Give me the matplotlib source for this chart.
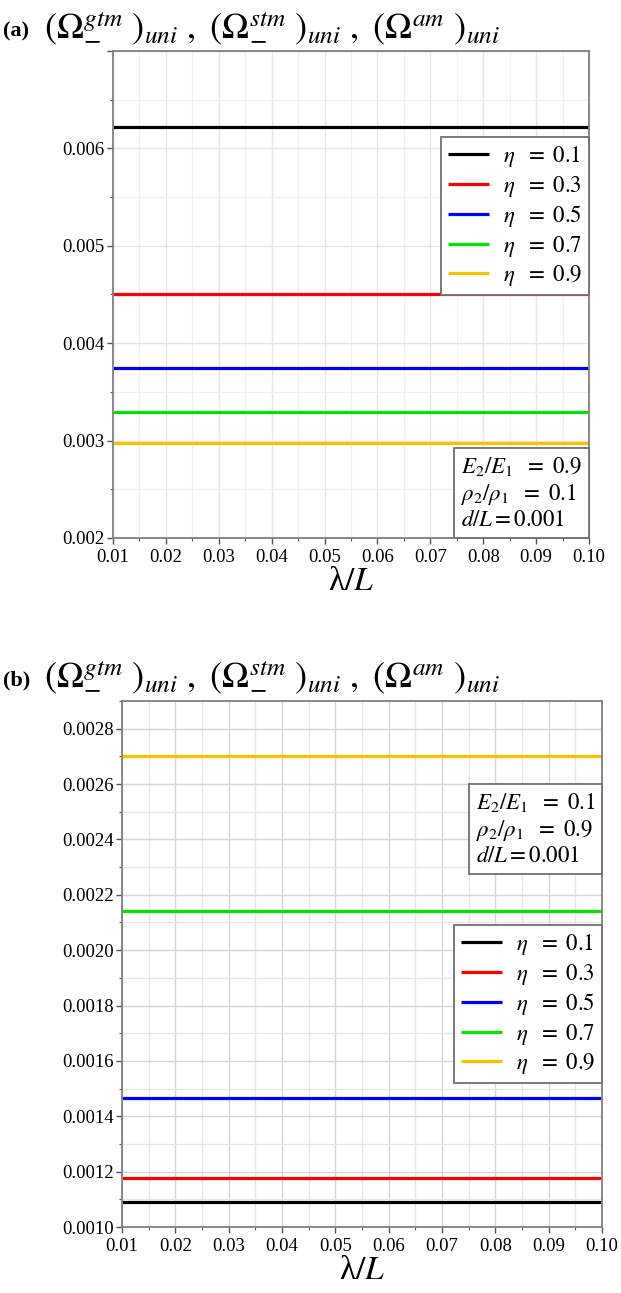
import matplotlib
matplotlib.use("Agg")
import matplotlib.pyplot as plt
from matplotlib.ticker import MultipleLocator, FixedLocator, FixedFormatter
from matplotlib.offsetbox import AnchoredText

plt.rcParams['mathtext.fontset'] = 'stix'
plt.rcParams['font.family'] = ['Liberation Serif', 'DejaVu Serif']

# ---------------- data ----------------
lam = [0.01, 0.02, 0.03, 0.04, 0.05, 0.06, 0.07, 0.08, 0.09, 0.10]
eta_labels = [r"$\eta\ \ =\ 0.1$", r"$\eta\ \ =\ 0.3$", r"$\eta\ \ =\ 0.5$",
              r"$\eta\ \ =\ 0.7$", r"$\eta\ \ =\ 0.9$"]
colors = ["#000000", "#ff0000", "#0000ff", "#00e600", "#ffc000"]

omega_a = [0.00622, 0.00451, 0.00375, 0.00329, 0.00298]
omega_b = [0.00109, 0.001176, 0.001467, 0.00214, 0.00270]

xtick_vals = [0.01, 0.02, 0.03, 0.04, 0.05, 0.06, 0.07, 0.08, 0.09, 0.10]
xtick_labels = ["0.01", "0.02", "0.03", "0.04", "0.05", "0.06", "0.07", "0.08", "0.09", "0.10"]
ytick_vals_a = [0.002, 0.003, 0.004, 0.005, 0.006, 0.007]
ytick_labels_a = ["0.002", "0.003", "0.004", "0.005", "0.006", ""]
ytick_vals_b = [0.0010, 0.0012, 0.0014, 0.0016, 0.0018, 0.0020, 0.0022, 0.0024, 0.0026, 0.0028]
ytick_labels_b = ["0.0010", "0.0012", "0.0014", "0.0016", "0.0018",
                  "0.0020", "0.0022", "0.0024", "0.0026", "0.0028"]

params_a = [r"$E_2/E_1\ \ =\ 0.9$", r"$\rho_2/\rho_1\ \ =\ 0.1$", r"$d/L = 0.001$"]
params_b = [r"$E_2/E_1\ \ =\ 0.1$", r"$\rho_2/\rho_1\ \ =\ 0.9$", r"$d/L = 0.001$"]

title_math = (r"$(\Omega^{gtm}_{-}\ )_{uni}\ ,\ (\Omega^{stm}_{-}\ )_{uni}\ ,\ "
              r"(\Omega^{am}\ )_{uni}$")

W, H = 621, 1293
fig = plt.figure(figsize=(W / 100, H / 100), dpi=100)


def px_axes(l, r, t, b):
    return fig.add_axes([l / W, 1 - b / H, (r - l) / W, (b - t) / H])


def style_axes(ax, ylim, yvals, ylabels, yminor, grid_major, grid_minor):
    ax.set_xlim(0.01, 0.10)
    ax.set_ylim(*ylim)
    ax.xaxis.set_major_locator(FixedLocator(xtick_vals))
    ax.xaxis.set_major_formatter(FixedFormatter(xtick_labels))
    ax.xaxis.set_minor_locator(MultipleLocator(0.005))
    ax.yaxis.set_major_locator(FixedLocator(yvals))
    ax.yaxis.set_major_formatter(FixedFormatter(ylabels))
    ax.yaxis.set_minor_locator(MultipleLocator(yminor))
    ax.tick_params(which='major', direction='out', length=4, width=1.0,
                   color='#555555', labelsize=13.5, pad=2)
    ax.tick_params(axis='x', which='major', pad=4)
    ax.tick_params(which='minor', direction='out', length=2.5, width=0.8,
                   color='#555555')
    ax.tick_params(axis='x', which='both', top=False)
    ax.tick_params(axis='y', which='both', right=False)
    for s in ax.spines.values():
        s.set_color('#808080')
        s.set_linewidth(1.3)
    ax.grid(True, which='major', color=grid_major, linewidth=1.0)
    ax.grid(True, which='minor', color=grid_minor, linewidth=0.9)
    ax.set_axisbelow(True)
    ax.set_xlabel("λ" + r"$/L$", fontsize=24, labelpad=0)


def param_box(ax, lines, loc, anchor):
    at = AnchoredText("\n".join(lines), loc=loc, bbox_to_anchor=anchor,
                      bbox_transform=ax.transAxes, borderpad=0, pad=0.3,
                      prop=dict(size=16.5, linespacing=1.2), frameon=True)
    at.patch.set_edgecolor('#707070')
    at.patch.set_linewidth(1.3)
    at.patch.set_boxstyle("square,pad=0")
    at.zorder = 5
    ax.add_artist(at)


def eta_legend(ax, anchor):
    leg = ax.legend(loc='upper right', bbox_to_anchor=anchor, fontsize=16.5,
                    frameon=True, fancybox=False, framealpha=1, edgecolor='#707070',
                    handlelength=1.8, handletextpad=0.6, labelspacing=0.2,
                    borderpad=0.3, borderaxespad=0)
    leg.get_frame().set_linewidth(1.3)
    leg.set_zorder(6)
    return leg


# ---------------- panel (a) ----------------
ax1 = px_axes(113, 589, 51, 538)
for v, c, lab in zip(omega_a, colors, eta_labels):
    ax1.plot(lam, [v] * len(lam), color=c, linewidth=2.3, label=lab,
             solid_capstyle='butt')
style_axes(ax1, (0.002, 0.007), ytick_vals_a, ytick_labels_a, 0.0005,
           '#e6e6e6', '#f0f0f0')
eta_legend(ax1, (1.0, 0.823))
param_box(ax1, params_a, 'lower right', (1.0, 0.0))

fig.text(3 / W, 1 - 31 / H, "(a)", fontsize=16, fontweight='bold',
         va='center', ha='left', family='Liberation Serif')
fig.text(44 / W, 1 - 28 / H, title_math, fontsize=26, va='center', ha='left')

# ---------------- panel (b) ----------------
ax2 = px_axes(122, 602, 701, 1227)
for v, c, lab in zip(omega_b, colors, eta_labels):
    ax2.plot(lam, [v] * len(lam), color=c, linewidth=2.3, label=lab,
             solid_capstyle='butt')
style_axes(ax2, (0.0010, 0.0029), ytick_vals_b, ytick_labels_b, 0.0001,
           '#d6d6d6', '#e6e6e6')
eta_legend(ax2, (1.0, 0.574))
param_box(ax2, params_b, 'upper right', (1.0, 0.842))

fig.text(3 / W, 1 - 680 / H, "(b)", fontsize=16, fontweight='bold',
         va='center', ha='left', family='Liberation Serif')
fig.text(44 / W, 1 - 677 / H, title_math, fontsize=26, va='center', ha='left')

fig.savefig("out.png", dpi=100)
